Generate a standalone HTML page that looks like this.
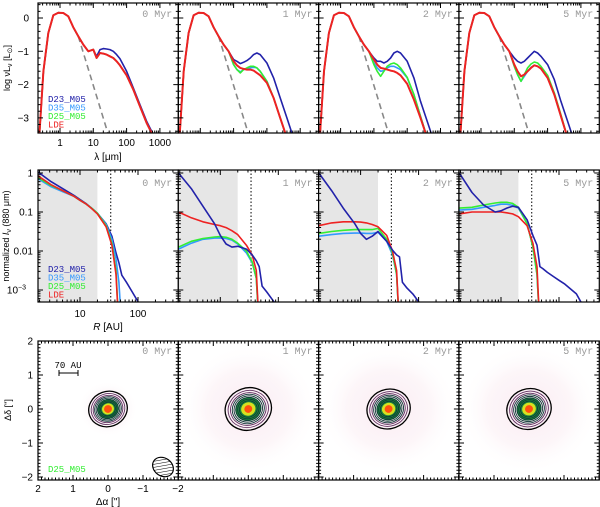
<!DOCTYPE html>
<html><head><meta charset="utf-8"><style>
body{margin:0;background:#fff;}
svg{display:block;font-family:"Liberation Sans",sans-serif;}
.t{font-size:10px;fill:#000;}
.ep{font-family:"Liberation Mono",monospace;font-size:10px;fill:#999;}
.lg{font-family:"Liberation Mono",monospace;font-size:9px;}
</style></head><body>
<svg id="fig" width="600" height="507" viewBox="0 0 600 507" xmlns="http://www.w3.org/2000/svg">
<defs>
<pattern id="hatch" width="3" height="3" patternUnits="userSpaceOnUse" patternTransform="rotate(45)"><line x1="0" y1="0" x2="0" y2="3" stroke="#000" stroke-width="1"/></pattern>
<radialGradient id="haze"><stop offset="0" stop-color="#f8e4ee"/><stop offset="0.6" stop-color="#fcf2f6"/><stop offset="1" stop-color="#fff" stop-opacity="0"/></radialGradient>
</defs>
<g id="layer"></g>
</svg>
<script>
const epochs=["0 Myr","1 Myr","2 Myr","5 Myr"];
const seriesNames=["D23_M05","D35_M05","D25_M05","LDE"];
const seriesColors=["#2222aa","#3399ff","#33ee33","#ee2222"];
const starX=[-0.62,-0.5,-0.35,-0.2,-0.05,0.1,0.25,0.4,0.55,0.7,0.85];
const starY=[-3.5,-1.6,-0.45,0.08,0.16,0.15,0.05,-0.28,-0.55,-0.8,-1.0];
const photX=[0.55,1.45];
const photY=[-0.55,-3.5];
const sedX=[0.85,1.0,1.1,1.2,1.3,1.4,1.5,1.6,1.7,1.8,2.0,2.2,2.4,2.6,2.8];
const sed=[
 [[-1.0,-0.95,-1.15,-0.95,-0.92,-0.93,-0.95,-1.0,-1.1,-1.22,-1.6,-2.1,-2.6,-3.1,-3.5],
  [-1.0,-0.95,-1.2,-1.05,-1.07,-1.1,-1.15,-1.2,-1.3,-1.42,-1.72,-2.15,-2.65,-3.15,-3.55],
  [-1.0,-0.95,-1.2,-1.05,-1.07,-1.1,-1.15,-1.2,-1.3,-1.42,-1.72,-2.15,-2.65,-3.15,-3.55],
  [-1.0,-0.95,-1.2,-1.05,-1.07,-1.1,-1.15,-1.2,-1.3,-1.42,-1.72,-2.15,-2.65,-3.15,-3.55]],
 [[-1.05,-1.25,-1.3,-1.37,-1.33,-1.28,-1.2,-1.1,-1.05,-1.1,-1.35,-1.8,-2.4,-3.0,-3.6],
  [-1.05,-1.4,-1.55,-1.62,-1.55,-1.52,-1.5,-1.48,-1.5,-1.6,-1.9,-2.4,-3.0,-3.6,-4.0],
  [-1.05,-1.4,-1.55,-1.65,-1.55,-1.5,-1.45,-1.45,-1.5,-1.6,-1.9,-2.4,-3.0,-3.6,-4.0],
  [-1.05,-1.3,-1.42,-1.5,-1.53,-1.55,-1.55,-1.58,-1.65,-1.72,-1.95,-2.4,-3.0,-3.6,-4.0]],
 [[-1.05,-1.2,-1.3,-1.3,-1.35,-1.3,-1.2,-1.05,-1.0,-1.05,-1.3,-1.8,-2.5,-3.1,-3.7],
  [-1.05,-1.35,-1.5,-1.6,-1.58,-1.5,-1.45,-1.45,-1.5,-1.55,-1.8,-2.3,-2.95,-3.6,-4.0],
  [-1.05,-1.4,-1.6,-1.75,-1.6,-1.45,-1.38,-1.35,-1.4,-1.5,-1.78,-2.3,-2.95,-3.6,-4.0],
  [-1.05,-1.25,-1.4,-1.5,-1.52,-1.55,-1.58,-1.6,-1.65,-1.72,-1.98,-2.45,-3.0,-3.6,-4.0]],
 [[-1.05,-1.2,-1.3,-1.35,-1.3,-1.2,-1.1,-1.0,-1.05,-1.15,-1.4,-1.85,-2.5,-3.1,-3.7],
  [-1.05,-1.45,-1.7,-1.9,-1.75,-1.6,-1.48,-1.42,-1.45,-1.52,-1.78,-2.3,-2.95,-3.6,-4.0],
  [-1.05,-1.45,-1.7,-1.9,-1.7,-1.5,-1.38,-1.32,-1.35,-1.45,-1.72,-2.25,-2.9,-3.6,-4.0],
  [-1.05,-1.4,-1.6,-1.75,-1.7,-1.6,-1.5,-1.42,-1.45,-1.52,-1.8,-2.3,-2.95,-3.6,-4.0]]
];
const profX=[0.28,0.5,0.7,0.9,1.0,1.1,1.2,1.3,1.45,1.55,1.62,1.67,1.72,1.8,1.9,2.0,2.1,2.3,2.45];
const prof=[
 [[0.02,-0.22,-0.4,-0.58,-0.68,-0.78,-0.9,-1.03,-1.3,-1.62,-2.05,-2.3,-2.62,-2.8,-3.05,-3.3,-3.6,-4,-4],
  [-0.15,-0.35,-0.48,-0.6,-0.7,-0.79,-0.9,-1.03,-1.32,-1.7,-2.2,-2.8,-4,-4,-4,-4,-4,-4,-4],
  [-0.12,-0.32,-0.45,-0.6,-0.7,-0.79,-0.9,-1.03,-1.35,-1.8,-2.5,-4,-4,-4,-4,-4,-4,-4,-4],
  [-0.08,-0.3,-0.45,-0.6,-0.7,-0.79,-0.91,-1.05,-1.38,-1.85,-2.6,-4,-4,-4,-4,-4,-4,-4,-4]],
 [[0.0,-0.4,-0.85,-1.3,-1.6,-1.82,-1.9,-1.88,-1.95,-2.1,-2.25,-2.4,-2.9,-3.05,-3.25,-3.45,-3.7,-4,-4],
  [-1.95,-1.8,-1.7,-1.67,-1.67,-1.68,-1.72,-1.82,-2.05,-2.3,-2.7,-4,-4,-4,-4,-4,-4,-4,-4],
  [-1.9,-1.75,-1.68,-1.64,-1.63,-1.65,-1.7,-1.8,-2.0,-2.28,-2.7,-4,-4,-4,-4,-4,-4,-4,-4],
  [-1.0,-1.15,-1.25,-1.32,-1.35,-1.4,-1.48,-1.58,-1.85,-2.1,-2.5,-4,-4,-4,-4,-4,-4,-4,-4]],
 [[0.0,-0.45,-0.9,-1.3,-1.55,-1.7,-1.62,-1.5,-1.75,-1.98,-2.1,-2.15,-2.8,-2.95,-3.1,-3.3,-3.5,-4,-4],
  [-1.62,-1.58,-1.55,-1.54,-1.54,-1.55,-1.55,-1.52,-1.75,-2.1,-2.6,-4,-4,-4,-4,-4,-4,-4,-4],
  [-1.55,-1.5,-1.47,-1.45,-1.45,-1.45,-1.45,-1.42,-1.7,-2.05,-2.6,-4,-4,-4,-4,-4,-4,-4,-4],
  [-1.35,-1.28,-1.25,-1.25,-1.26,-1.28,-1.32,-1.38,-1.6,-2.0,-2.5,-4,-4,-4,-4,-4,-4,-4,-4]],
 [[0.0,-0.5,-0.82,-1.0,-0.97,-0.9,-0.85,-0.88,-1.2,-1.6,-1.85,-2.4,-2.45,-2.55,-2.65,-2.75,-2.85,-3.1,-3.5],
  [-0.95,-0.93,-0.88,-0.83,-0.8,-0.8,-0.83,-0.9,-1.3,-1.9,-2.6,-4,-4,-4,-4,-4,-4,-4,-4],
  [-0.9,-0.88,-0.82,-0.77,-0.75,-0.75,-0.78,-0.88,-1.3,-1.9,-2.6,-4,-4,-4,-4,-4,-4,-4,-4],
  [-1.05,-1.0,-1.0,-1.0,-1.0,-1.02,-1.05,-1.12,-1.35,-1.8,-2.4,-4,-4,-4,-4,-4,-4,-4,-4]]
];
const sedYTicks=["0","−1","−2","−3"];
const sedXTicks=["1","10","100","1000"];
const profYTicks=["1","0.1","0.01"];
const profXTicks=["10","100"];
const mapTicks=["2","1","0","−1","−2"];
const contourScale=[1.0,1.2,1.12,1.15];

const NS="http://www.w3.org/2000/svg";
const L=document.getElementById('layer');
function mk(tag,attrs,parent){const e=document.createElementNS(NS,tag);for(const k in attrs)e.setAttribute(k,attrs[k]);(parent||L).appendChild(e);return e;}
function txt(x,y,s,cls,anchor,parent){const e=mk('text',{x:x,y:y,class:cls,'text-anchor':anchor||'middle'},parent);e.textContent=s;return e;}
const colX=[38,178.3,318.6,459];const W=140.3;
const rows={sed:[3,133],prof:[170,302],map:[341,480]};
function pathOf(xs,ys,fx,fy){let d='';for(let i=0;i<xs.length;i++){d+=(i?'L':'M')+fx(xs[i]).toFixed(1)+','+fy(ys[i]).toFixed(1);}return d;}
function frameTicks(g,x0,y0,x1,y1,xt,yt,xm,ym){
 const T=[];
 xt.forEach(x=>{T.push(['M',x,y1,x,y1-5]);T.push(['M',x,y0,x,y0+5]);});
 xm.forEach(x=>{T.push(['M',x,y1,x,y1-2.5]);T.push(['M',x,y0,x,y0+2.5]);});
 yt.forEach(y=>{T.push(['M',x0,y,x0+5,y]);T.push(['M',x1,y,x1-5,y]);});
 ym.forEach(y=>{T.push(['M',x0,y,x0+2.5,y]);T.push(['M',x1,y,x1-2.5,y]);});
 let d='';T.forEach(t=>{d+='M'+t[1]+','+t[2]+'L'+t[3]+','+t[4];});
 mk('path',{d:d,stroke:'#000','stroke-width':1,fill:'none'},g);
}
function clipFor(id,x0,y0,x1,y1){const cp=mk('clipPath',{id:id},document.querySelector('defs'));mk('rect',{x:x0,y:y0,width:x1-x0,height:y1-y0},cp);}

for(let p=0;p<4;p++){
 const x0=colX[p],x1=x0+W,[y0,y1]=[rows.sed[0],rows.sed[1]];
 const g=mk('g',{});
 
 
 const fx=v=>x0+22+v*33.3, fy=v=>18-v*33.3;
 clipFor('cs'+p,x0,y0,x1,y1);
 const c=mk('g',{'clip-path':'url(#cs'+p+')'},g);
 const ph=mk('path',{d:pathOf(photX,photY,fx,fy),stroke:'#888','stroke-width':1.6,'stroke-dasharray':'6,4',fill:'none'},c);
 
 
 for(let s=0;s<4;s++){
  const xs=starX.concat(sedX.slice(1)), ys=starY.concat(sed[p][s].slice(1));
  const e=mk('path',{d:pathOf(xs,ys,fx,fy),stroke:seriesColors[s],'stroke-width':s==3?2:1.6,fill:'none','stroke-linejoin':'round'},c);
  
  
 }
 mk('rect',{x:x0,y:y0,width:W,height:y1-y0,fill:'none',stroke:'#000','stroke-width':1.2},g);
 const xt=[0,1,2,3].map(fx), xm=[];
 for(let d=-1;d<4;d++)for(let k=2;k<10;k++){const v=fx(d+Math.log10(k));if(v>x0&&v<x1)xm.push(v);}
 const yt=[0,-1,-2,-3].map(fy), ym=[];
 for(let v=-3.4;v<0.45;v+=0.2){const yy=fy(v);if(Math.abs(Math.round(v)-v)>0.05)ym.push(yy);}
 frameTicks(g,x0,y0,x1,y1,xt,yt,xm,ym);
 txt(x1-6,17,epochs[p],'ep','end',g);
 if(p==0){
  sedYTicks.forEach((s,i)=>txt(29,fy(-i)+3.5,s,'t','end',g));
  sedXTicks.forEach((s,i)=>txt(fx(i),146,s,'t','middle',g));
 }
}
for(let p=0;p<4;p++){
 const x0=colX[p],x1=x0+W,[y0,y1]=[rows.prof[0],rows.prof[1]];
 const g=mk('g',{});
 
 
 const fx=v=>x0+42+(v-1)*58, fy=v=>173-v*39;
 clipFor('cp'+p,x0,y0,x1,y1);
 const c=mk('g',{'clip-path':'url(#cp'+p+')'},g);
 const gr=mk('rect',{x:x0,y:y0,width:fx(1.3)-x0,height:y1-y0,fill:'#e6e6e6'},c);
 
 
 const dl=mk('line',{x1:fx(1.53),x2:fx(1.53),y1:y0,y2:y1,stroke:'#000','stroke-width':1,'stroke-dasharray':'1.5,2'},c);
 
 
 const order=p==0?[0,1,2,3]:[1,2,3,0];
 order.forEach(s=>{
  const e=mk('path',{d:pathOf(profX,prof[p][s],fx,fy),stroke:seriesColors[s],'stroke-width':1.6,fill:'none','stroke-linejoin':'round'},c);
  
  
 });
 mk('rect',{x:x0,y:y0,width:W,height:y1-y0,fill:'none',stroke:'#000','stroke-width':1.2},g);
 const xt=[1,2].map(fx), xm=[];
 for(let d=0;d<3;d++)for(let k=2;k<10;k++){const v=fx(d+Math.log10(k));if(v>x0&&v<x1)xm.push(v);}
 const yt=[0,-1,-2,-3].map(fy), ym=[];
 for(let d=-4;d<1;d++)for(let k=2;k<10;k++){const v=fy(d+Math.log10(k));if(v>y0&&v<y1)ym.push(v);}
 frameTicks(g,x0,y0,x1,y1,xt,yt,xm,ym);
 txt(x1-6,186,epochs[p],'ep','end',g);
 if(p==0){
  profYTicks.forEach((s,i)=>txt(33,fy(-i)+3.5,s,'t','end',g));
  const e=txt(26,fy(-3)+3.5,'10','t','end',g);
  const sp=mk('tspan',{dy:-4,'font-size':7},e);sp.textContent='−3';
  profXTicks.forEach((s,i)=>txt(fx(i+1),317,s,'t','middle',g));
 }
}
for(let p=0;p<4;p++){
 const x0=colX[p],x1=x0+W,[y0,y1]=[rows.map[0],rows.map[1]];
 const g=mk('g',{});
 
 
 const fx=v=>x0+70-v*35, fy=v=>409-v*34;
 clipFor('cm'+p,x0,y0,x1,y1);
 const c=mk('g',{'clip-path':'url(#cm'+p+')'},g);
 mk('ellipse',{cx:fx(0),cy:fy(0),rx:p==0?30:70,ry:p==0?28:65,fill:'url(#haze)',opacity:0.7},c);
 const sc=contourScale[p];
 const cg=mk('g',{transform:'translate('+fx(0)+','+fy(0)+') rotate(-20)'},c);
 
 
 mk('ellipse',{cx:0,cy:0,rx:11*sc,ry:10*sc,fill:'#1a8a3a'},cg);
 mk('ellipse',{cx:0,cy:0,rx:6*sc,ry:5.5*sc,fill:'#d8e020'},cg);
 mk('ellipse',{cx:0,cy:0,rx:4,ry:3.8,fill:'#ff5010'},cg);
 const rr=[19.5,17,15,13.5,12,10.5,9,7.5];
 rr.forEach((r,i)=>mk('ellipse',{cx:0,cy:0,rx:r*sc,ry:r*sc*0.9,fill:'none',stroke:i==0?'#000':(i<3?'#603060':'#103838'),'stroke-width':i==0?1.3:0.9},cg));
 mk('rect',{x:x0,y:y0,width:W,height:y1-y0,fill:'none',stroke:'#000','stroke-width':1.2},g);
 const xt=[2,1,0,-1,-2].map(fx), xm=[];
 for(let v=-2;v<=2.001;v+=0.1){if(Math.abs(Math.round(v)-v)>0.05)xm.push(fx(v));}
 const yt=[2,1,0,-1,-2].map(fy), ym=[];
 for(let v=-2;v<=2.001;v+=0.1){if(Math.abs(Math.round(v)-v)>0.05)ym.push(fy(v));}
 frameTicks(g,x0,y0,x1,y1,xt,yt,xm,ym);
 txt(x1-6,354,epochs[p],'ep','end',g);
 if(p==0){
  mapTicks.forEach((s,i)=>txt(33,fy(2-i)+3.5,s,'t','end',g));
  mapTicks.forEach((s,i)=>txt(fx(2-i),492,s,'t','middle',g));
  const b=mk('ellipse',{cx:163,cy:467,rx:11,ry:9,transform:'rotate(35 163 467)',fill:'url(#hatch)',stroke:'#000','stroke-width':1.2},g);
  
  
  const sb=mk('path',{d:'M59,373L78,373M59,370L59,376M78,370L78,376',stroke:'#000','stroke-width':1},g);
  
  
  const st=txt(68,368,'70 AU','lg','middle',g);st.setAttribute('font-size','8');
  const lt=txt(48,472,'D25_M05','lg','start',g);lt.setAttribute('fill','#33ee33');
 }
}
[['sed',102],['prof',272]].forEach(([n,y])=>{
 seriesNames.forEach((s,i)=>{
  const e=txt(48,y+i*8.5,s,'lg','start');
  e.setAttribute('fill',seriesColors[i]);
  
  
 });
});
function ytitle(x,y,s){const e=mk('text',{x:x,y:y,class:'t','text-anchor':'middle','font-size':'9',transform:'rotate(-90 '+x+' '+y+')'});e.style.fontSize='9px';e.innerHTML=s;return e;}
const a1=ytitle(10,68,'log νL<tspan font-size="7" dy="2">ν</tspan><tspan dy="-2"> [L</tspan><tspan font-size="7" dy="2">⊙</tspan><tspan dy="-2">]</tspan>');

const a2=ytitle(9,236,'normalized <tspan font-style="italic">I</tspan><tspan font-size="7" dy="2">ν</tspan><tspan dy="-2"> (880 μm)</tspan>');

const a3=ytitle(11,410,'Δδ ["]');

const b1=txt(108,160,'λ [μm]','t');

const b2=mk('text',{x:108,y:330,class:'t','text-anchor':'middle'});b2.innerHTML='<tspan font-style="italic">R</tspan> [AU]';

const b3=txt(108,505,'Δα ["]','t');

</script>
</body></html>
